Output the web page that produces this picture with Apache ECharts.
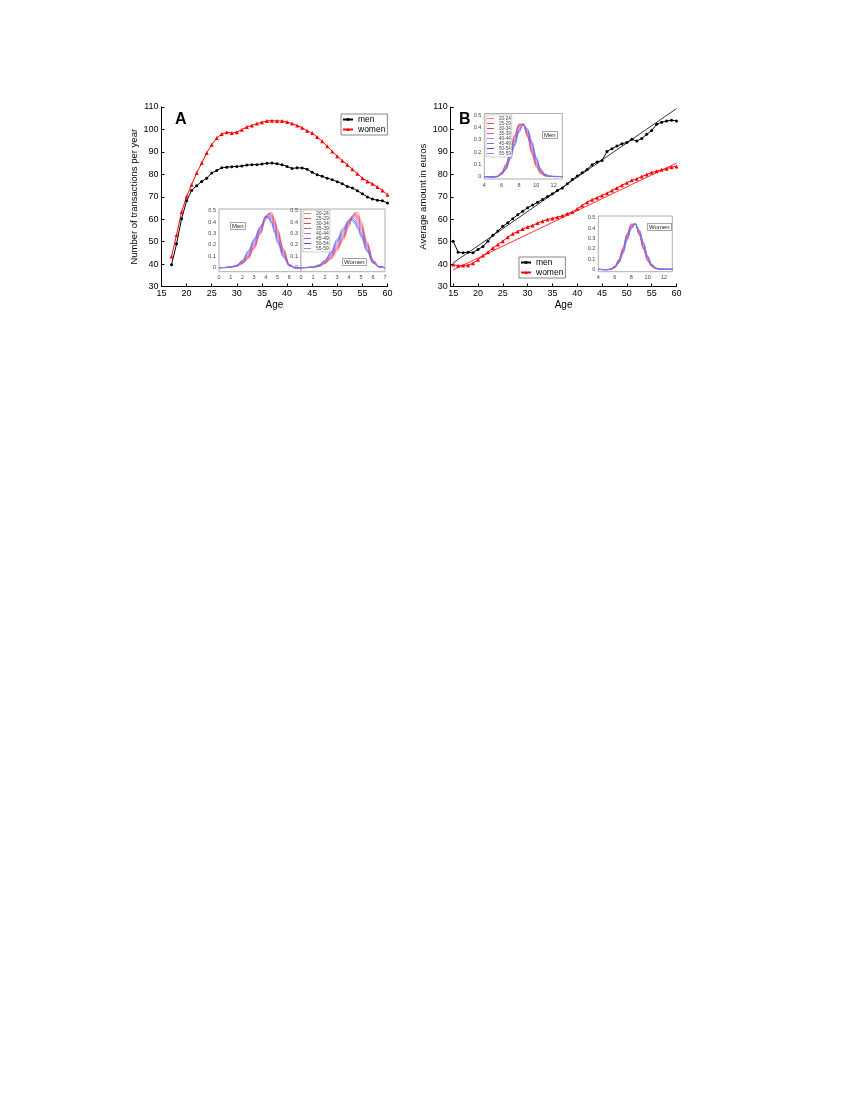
<!DOCTYPE html>
<html><head><meta charset="utf-8">
<script src="https://cdn.jsdelivr.net/npm/echarts@6/dist/echarts.min.js"></script>
<style>html,body{margin:0;padding:0;background:#fff}#c{width:850px;height:1100px}</style>
</head><body><div id="c"></div>
<script>
// ---------- Panel A: number of transactions per year ----------
const agesA = [17,18,19,20,21,22,23,24,25,26,27,28,29,30,31,32,33,34,35,36,37,38,39,40,41,42,43,44,45,46,47,48,49,50,51,52,53,54,55,56,57,58,59,60];
const menA = [39.7,49,60.2,68.2,72.8,74.9,76.8,78.3,80.6,81.7,82.9,83.2,83.4,83.5,83.7,84.1,84.3,84.3,84.6,84.9,85.0,84.7,84.3,83.5,82.6,82.9,82.8,82.3,80.9,79.8,79.1,78.3,77.6,76.7,75.8,74.6,73.9,72.7,71.3,69.9,69.0,68.4,68.2,67.2];
const womenA = [43.4,53,63.2,70.1,75.4,80.6,85,89.5,93.2,96.2,98,98.7,98.4,98.8,99.9,101.1,101.8,102.6,103.2,103.8,103.9,103.8,103.8,103.3,102.6,101.7,100.8,99.4,98.4,96.6,94.7,92.5,90.2,88,86.1,84.3,82.3,80.3,78.3,76.8,75.8,74.3,72.8,70.9];

// ---------- Panel B: average amount in euros ----------
const agesB = [15,16,17,18,19,20,21,22,23,24,25,26,27,28,29,30,31,32,33,34,35,36,37,38,39,40,41,42,43,44,45,46,47,48,49,50,51,52,53,54,55,56,57,58,59,60];
const menB = [50.2,45.3,45.0,45.3,45.0,46.5,47.8,50.2,52.8,54.7,56.8,58.4,60.2,62,63.5,65.1,66.3,67.5,68.8,70.1,71.3,72.8,73.9,75.8,77.7,79.2,80.7,82.2,84.3,85.5,86.2,90.2,91.4,92.6,93.6,94.2,95.6,94.8,96.0,97.8,99.5,102.3,103.2,103.8,104.1,103.8];
const womenB = [39.8,39.2,39.4,39.5,40.4,41.9,43.8,45.3,47.2,48.7,50.2,52,53.5,54.5,55.6,56.5,57.2,58.3,59.1,59.9,60.3,60.9,61.5,62.4,63.2,64.6,66.1,67.6,68.7,69.6,70.6,71.6,72.8,73.9,75.1,76.2,77.3,78,79,79.9,80.8,81.4,82,82.5,83.2,83.5];
const fitMenB = [[15,40.5],[60,109.3]];
const fitWomenB = [[15,37.4],[60,85]];

// ---------- Tick labels ----------
const xTicksB = [15,20,25,30,35,40,45,50,55,60];
const yTicksInset = [0,0.1,0.2,0.3,0.4,0.5];
const xTicksInsetB = [4,6,8,10,12];

// ---------- Insets ----------
const groups = ['20-24','25-29','30-34','35-39','40-44','45-49','50-54','55-59'];
const groupColors = ['#ff7070','#f04a5a','#d8406e','#c060a8','#b08ae0','#8070e8','#4a4af0','#8a8aff'];

const xInsetA = [0,0.5,1,1.5,2,2.5,3,3.5,4,4.25,4.5,4.75,5,5.5,6,6.5,7];
const menInsetA = [
  [0,0.001,0.004,0.012,0.035,0.080,0.165,0.290,0.420,0.475,0.484,0.430,0.340,0.170,0.030,0.002,0],
  [0,0.001,0.004,0.013,0.038,0.088,0.177,0.300,0.432,0.476,0.470,0.410,0.320,0.155,0.027,0.001,0],
  [0,0.001,0.005,0.014,0.042,0.097,0.190,0.310,0.443,0.474,0.455,0.390,0.300,0.143,0.025,0,0],
  [0,0.001,0.005,0.015,0.046,0.106,0.203,0.320,0.450,0.469,0.440,0.372,0.282,0.130,0.022,-0.001,0],
  [0,0.002,0.006,0.017,0.050,0.116,0.215,0.330,0.455,0.460,0.425,0.355,0.265,0.120,0.020,-0.002,0],
  [0,0.002,0.006,0.018,0.055,0.126,0.228,0.340,0.454,0.450,0.410,0.338,0.248,0.110,0.018,-0.002,0],
  [0,0.002,0.007,0.020,0.060,0.138,0.242,0.350,0.448,0.440,0.395,0.320,0.232,0.100,0.016,-0.003,0],
  [0,0.002,0.008,0.022,0.065,0.150,0.255,0.360,0.440,0.428,0.380,0.302,0.215,0.090,0.015,-0.003,0]
];
const womenInsetA = [
  [0,0.001,0.003,0.010,0.035,0.075,0.145,0.240,0.360,0.430,0.485,0.480,0.410,0.230,0.067,0.010,0],
  [0,0.001,0.004,0.012,0.040,0.084,0.160,0.255,0.375,0.440,0.478,0.460,0.385,0.215,0.063,0.009,0],
  [0,0.001,0.004,0.014,0.044,0.094,0.175,0.270,0.390,0.450,0.468,0.440,0.360,0.200,0.058,0.009,0],
  [0,0.001,0.005,0.016,0.049,0.103,0.190,0.285,0.400,0.455,0.455,0.415,0.340,0.190,0.054,0.008,0],
  [0,0.002,0.006,0.018,0.053,0.112,0.205,0.300,0.410,0.448,0.440,0.390,0.320,0.178,0.050,0.008,0],
  [0,0.002,0.006,0.020,0.058,0.121,0.220,0.315,0.415,0.440,0.420,0.370,0.300,0.165,0.046,0.007,0],
  [0,0.002,0.007,0.022,0.062,0.131,0.235,0.332,0.418,0.428,0.400,0.350,0.285,0.152,0.042,0.007,0],
  [0,0.002,0.008,0.025,0.067,0.140,0.250,0.350,0.418,0.415,0.385,0.335,0.270,0.140,0.038,0.006,0]
];
const xInsetB = [4,5,5.5,6,6.5,7,7.5,8,8.5,9,9.5,10,10.5,11,11.5,12,13];
const menInsetB = [
  [0,0,0.003,0.035,0.100,0.210,0.340,0.430,0.425,0.320,0.180,0.075,0.022,0.005,0.001,0,0],
  [0,-0.001,0.002,0.032,0.094,0.200,0.330,0.425,0.428,0.330,0.195,0.087,0.028,0.007,0.001,0,0],
  [0,-0.001,0.001,0.029,0.087,0.190,0.315,0.415,0.430,0.340,0.210,0.099,0.034,0.009,0.002,0,0],
  [0,-0.002,0,0.026,0.081,0.180,0.300,0.405,0.430,0.350,0.225,0.111,0.040,0.011,0.002,0,0],
  [0,-0.002,0,0.024,0.075,0.170,0.290,0.395,0.428,0.360,0.240,0.123,0.046,0.013,0.003,0,0],
  [0,-0.003,-0.001,0.021,0.068,0.160,0.275,0.385,0.426,0.370,0.257,0.135,0.052,0.015,0.003,0.001,0],
  [0,-0.003,-0.001,0.018,0.062,0.150,0.262,0.372,0.423,0.380,0.273,0.148,0.058,0.017,0.004,0.001,0],
  [0,-0.004,-0.002,0.015,0.055,0.140,0.250,0.360,0.420,0.390,0.290,0.160,0.065,0.020,0.004,0.001,0]
];
const womenInsetB = [
  [0,-0.002,0.002,0.030,0.095,0.210,0.350,0.440,0.440,0.330,0.190,0.080,0.025,0.006,0.001,0,0],
  [0,-0.002,0.001,0.028,0.090,0.201,0.340,0.433,0.440,0.337,0.200,0.087,0.029,0.007,0.001,0,0],
  [0,-0.003,0.001,0.026,0.084,0.193,0.330,0.426,0.440,0.344,0.210,0.094,0.032,0.008,0.002,0,0],
  [0,-0.003,0,0.024,0.079,0.184,0.320,0.419,0.440,0.351,0.220,0.101,0.036,0.009,0.002,0,0],
  [0,-0.003,0,0.021,0.073,0.176,0.310,0.411,0.440,0.359,0.230,0.109,0.039,0.010,0.002,0,0],
  [0,-0.003,-0.001,0.019,0.068,0.167,0.300,0.404,0.440,0.366,0.240,0.116,0.043,0.011,0.002,0,0],
  [0,-0.004,-0.001,0.017,0.064,0.159,0.290,0.397,0.440,0.373,0.250,0.123,0.046,0.012,0.003,0,0],
  [0,-0.004,-0.002,0.015,0.060,0.150,0.280,0.390,0.440,0.380,0.260,0.130,0.050,0.014,0.003,0,0]
];

// ---------- build ----------
const FONT = 'Liberation Sans, Arial, sans-serif';
const zip = (xs, ys) => xs.map((x, i) => [x, ys[i]]);

function mainX(idx, opts) {
  return Object.assign({
    gridIndex: idx, type: 'value', name: 'Age', nameLocation: 'middle', nameGap: 14,
    nameTextStyle: {fontFamily: FONT, fontSize: 10, color: '#000'},
    axisLine: {show: true, lineStyle: {color: '#000', width: 1}},
    axisTick: {show: true, inside: true, length: 3, lineStyle: {color: '#000'}},
    axisLabel: {fontFamily: FONT, fontSize: 9, color: '#000', margin: 3},
    splitLine: {show: false}
  }, opts);
}
function mainY(idx, name) {
  return {
    gridIndex: idx, type: 'value', min: 30, max: 110, interval: 10,
    name: name, nameLocation: 'middle', nameRotate: 90, nameGap: 15,
    nameTextStyle: {fontFamily: FONT, fontSize: 9.5, color: '#000'},
    axisLine: {show: true, lineStyle: {color: '#000', width: 1}},
    axisTick: {show: true, inside: true, length: 3, lineStyle: {color: '#000'}},
    axisLabel: {fontFamily: FONT, fontSize: 9, color: '#000', margin: 3},
    splitLine: {show: false}
  };
}
function insetX(idx, min, max, opts) {
  return Object.assign({
    gridIndex: idx, type: 'value', min: min, max: max,
    axisLine: {show: false}, axisTick: {show: false},
    axisLabel: {fontFamily: FONT, fontSize: 5.5, color: '#444', margin: 3},
    splitLine: {show: false}
  }, opts);
}
function insetY(idx, min, max) {
  return {
    gridIndex: idx, type: 'value', min: min, max: max,
    axisLine: {show: false}, axisTick: {show: false},
    axisLabel: {fontFamily: FONT, fontSize: 5.5, color: '#444', margin: 3,
      customValues: yTicksInset, formatter: v => v === 0 ? '0' : String(v)},
    splitLine: {show: false}
  };
}
const insetGrid = (l, t, w, h) => ({left: l, top: t, width: w, height: h, show: true,
  borderColor: '#999', borderWidth: 0.8, backgroundColor: '#fff', containLabel: false});

const series = [];
function insetSeries(xs, curves, idx) {
  curves.forEach((ys, i) => series.push({
    name: groups[i], type: 'line', xAxisIndex: idx, yAxisIndex: idx,
    data: zip(xs, ys), symbol: 'none', smooth: 0.35, smoothMonotone: 'x',
    color: groupColors[i], lineStyle: {width: 1, opacity: 0.8}, silent: true, z: 3
  }));
}
// main series
series.push({name: 'men', type: 'line', xAxisIndex: 0, yAxisIndex: 0, data: zip(agesA, menA),
  symbol: 'circle', symbolSize: 3, color: '#000', lineStyle: {width: 1}, z: 4});
series.push({name: 'women', type: 'line', xAxisIndex: 0, yAxisIndex: 0, data: zip(agesA, womenA),
  symbol: 'triangle', symbolSize: 4, color: '#ff0000', lineStyle: {width: 1}, z: 4});
series.push({name: 'fitMen', type: 'line', xAxisIndex: 3, yAxisIndex: 3, data: fitMenB,
  symbol: 'none', color: '#000', lineStyle: {width: 0.8}, z: 2});
series.push({name: 'fitWomen', type: 'line', xAxisIndex: 3, yAxisIndex: 3, data: fitWomenB,
  symbol: 'none', color: '#ff0000', lineStyle: {width: 0.8}, z: 2});
series.push({name: 'men', type: 'line', xAxisIndex: 3, yAxisIndex: 3, data: zip(agesB, menB),
  symbol: 'circle', symbolSize: 3, color: '#000', lineStyle: {width: 1}, z: 4});
series.push({name: 'women', type: 'line', xAxisIndex: 3, yAxisIndex: 3, data: zip(agesB, womenB),
  symbol: 'triangle', symbolSize: 4, color: '#ff0000', lineStyle: {width: 1}, z: 4});
insetSeries(xInsetA, menInsetA, 1);
insetSeries(xInsetA, womenInsetA, 2);
insetSeries(xInsetB, menInsetB, 4);
insetSeries(xInsetB, womenInsetB, 5);

const labelBox = (text, l, t) => ({text: text, left: l, top: t, padding: [1, 2],
  borderColor: '#666', borderWidth: 0.6,
  textStyle: {fontFamily: FONT, fontSize: 6, fontWeight: 'normal', color: '#222'}});

const mainLegend = (l, t) => ({data: ['men', 'women'], left: l, top: t, orient: 'vertical',
  itemWidth: 10, itemHeight: 3.5, itemGap: 1, padding: [1, 2, 1, 1], selectedMode: false,
  borderColor: '#555', borderWidth: 0.7, backgroundColor: '#fff',
  textStyle: {fontFamily: FONT, fontSize: 8.5, color: '#000', lineHeight: 7.5}});
const insetLegend = (l, t, fs) => ({data: groups, left: l, top: t, orient: 'vertical',
  icon: 'rect', itemWidth: 7, itemHeight: 1, itemGap: 0, padding: [1, 1], selectedMode: false,
  borderColor: '#999', borderWidth: 0.5, backgroundColor: '#fff',
  textStyle: {fontFamily: FONT, fontSize: fs, color: '#444', lineHeight: fs}});

const option = {
  animation: false,
  backgroundColor: '#fff',
  title: [
    {text: 'A', left: 175, top: 112, padding: 0, textStyle: {fontFamily: FONT, fontSize: 16, fontWeight: 'bold', color: '#000'}},
    {text: 'B', left: 459, top: 112, padding: 0, textStyle: {fontFamily: FONT, fontSize: 16, fontWeight: 'bold', color: '#000'}},
    labelBox('Men', 230, 222), labelBox('Women', 342, 258),
    labelBox('Men', 542, 131), labelBox('Women', 647, 223)
  ],
  legend: [mainLegend(341, 114), mainLegend(519, 257), insetLegend(303, 210, 5), insetLegend(486, 115, 4.6)],
  grid: [
    {left: 161.5, top: 107, width: 226, height: 179.5},
    insetGrid(219, 209, 82, 62.7),
    insetGrid(301, 209, 84, 62.7),
    {left: 450.7, top: 107, width: 225.8, height: 179.5},
    insetGrid(484.3, 113.5, 78, 65.5),
    insetGrid(598.3, 216, 74, 55.7)
  ],
  xAxis: [
    mainX(0, {min: 15, max: 60, interval: 5}),
    insetX(1, 0, 7, {interval: 1, axisLabel: {fontFamily: FONT, fontSize: 5.5, color: '#444', margin: 3, showMaxLabel: false}}),
    insetX(2, 0, 7, {interval: 1}),
    mainX(3, {min: 14.5, max: 60,
      axisTick: {show: true, inside: true, length: 3, lineStyle: {color: '#000'}, customValues: xTicksB},
      axisLabel: {fontFamily: FONT, fontSize: 9, color: '#000', margin: 3, customValues: xTicksB}}),
    insetX(4, 4, 13, {axisLabel: {fontFamily: FONT, fontSize: 5.5, color: '#444', margin: 3, customValues: xTicksInsetB}}),
    insetX(5, 4, 13, {axisLabel: {fontFamily: FONT, fontSize: 5.5, color: '#444', margin: 3, customValues: xTicksInsetB}})
  ],
  yAxis: [
    mainY(0, 'Number of transactions per year'),
    insetY(1, -0.035, 0.515),
    insetY(2, -0.035, 0.515),
    mainY(3, 'Average amount in euros'),
    insetY(4, -0.02, 0.515),
    insetY(5, -0.023, 0.517)
  ],
  series: series
};
const chart = echarts.init(document.getElementById('c'), null, {renderer: 'canvas'});
chart.setOption(option);
</script>
</body></html>
